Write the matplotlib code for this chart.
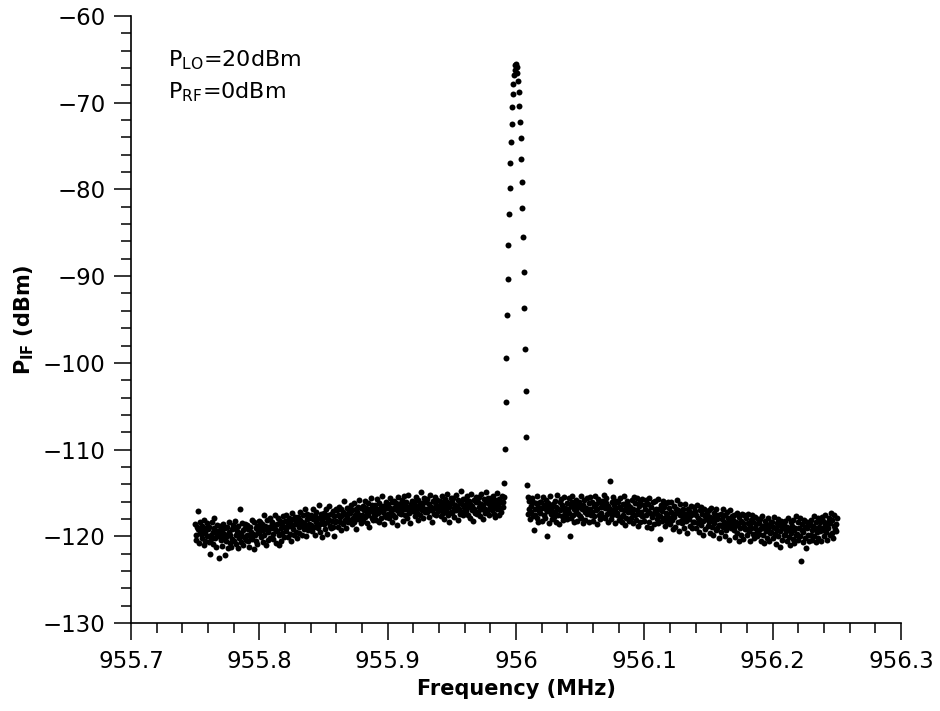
import numpy as np
import matplotlib
matplotlib.use("Agg")
import matplotlib.pyplot as plt
from matplotlib.ticker import MultipleLocator, FuncFormatter

# frequency sweep: 1001 points, 0.5 kHz step
f_start = 955.75
f_stop = 956.25
n_points = 1001

# noise floor below the peak (955.7500 .. 955.9905 MHz)
noise_left = [
    -118.6, -119.9, -120.4, -118.9, -119.2, -117.1, -120.8, -119.5, -118.3, -119.7, -120.2, -118.8, -119.3, -121.0, -118.1, -119.6, -120.5, -119.0, -118.5, -120.0,
    -119.2, -120.7, -118.9, -122.1, -119.8, -120.3, -118.4, -119.5, -120.9, -119.1, -117.9, -120.2, -119.6, -121.2, -118.7, -120.0, -119.4, -122.5, -119.9, -118.8,
    -120.4, -119.3, -121.1, -118.6, -120.1, -119.7, -122.2, -119.0, -120.6, -118.9, -120.0, -121.4, -119.5, -118.3, -120.8, -119.9, -121.2, -119.2, -120.3, -118.7,
    -119.1, -120.5, -118.2, -119.8, -120.9, -119.4, -121.3, -118.8, -119.9, -120.2, -116.9, -119.6, -120.7, -118.5, -119.3, -121.0, -120.1, -119.0, -118.6, -120.4,
    -119.8, -118.7, -120.6, -119.2, -121.2, -118.9, -120.0, -119.5, -118.1, -120.3, -119.7, -121.5, -118.4, -119.9, -120.5, -119.1, -118.8, -120.9, -119.4, -118.2,
    -119.6, -118.3, -120.1, -119.0, -118.6, -120.7, -119.3, -117.6, -119.9, -118.8, -121.0, -119.2, -118.1, -120.4, -119.5, -118.9, -120.2, -117.9, -119.1, -118.5,
    -118.4, -119.7, -120.3, -118.8, -117.5, -119.2, -120.8, -118.6, -119.4, -117.9, -119.9, -121.0, -118.2, -119.1, -120.5, -118.7, -119.6, -117.7, -118.9, -120.1,
    -118.2, -119.4, -117.6, -118.9, -120.1, -118.5, -117.9, -119.7, -118.3, -120.6, -118.8, -117.3, -119.2, -118.0, -119.9, -118.6, -117.8, -119.5, -118.4, -120.2,
    -117.8, -118.9, -119.6, -118.1, -117.2, -118.7, -119.9, -118.3, -117.6, -119.2, -118.5, -116.9, -118.8, -120.0, -118.0, -117.4, -119.3, -118.6, -117.9, -119.0,
    -118.7, -117.5, -119.4, -118.0, -116.8, -118.9, -117.7, -119.8, -118.3, -117.2, -118.5, -119.1, -117.9, -116.4, -118.6, -119.5, -117.4, -118.2, -120.1, -117.8,
    -117.3, -118.6, -119.2, -117.8, -116.9, -118.4, -119.7, -117.6, -118.1, -116.5, -118.8, -117.4, -119.0, -118.2, -117.1, -118.9, -120.0, -117.7, -118.3, -116.8,
    -118.2, -117.0, -118.9, -117.5, -116.6, -118.4, -117.8, -119.3, -116.9, -117.6, -118.6, -117.2, -115.9, -118.1, -117.4, -119.0, -117.7, -116.7, -118.3, -117.1,
    -116.8, -118.1, -117.3, -116.4, -118.6, -117.0, -117.9, -116.2, -118.3, -117.5, -116.9, -119.2, -117.2, -116.6, -118.0, -117.6, -115.8, -117.8, -118.5, -116.7,
    -117.6, -116.5, -118.2, -117.0, -115.9, -117.8, -116.7, -118.5, -117.3, -116.2, -117.5, -118.9, -116.8, -117.1, -115.6, -117.9, -116.4, -118.1, -117.4, -116.9,
    -116.4, -117.6, -118.1, -116.8, -115.7, -117.3, -116.2, -118.4, -117.0, -116.6, -117.9, -115.4, -117.2, -116.5, -118.6, -116.9, -117.5, -116.1, -117.8, -116.7,
    -117.4, -116.3, -117.9, -116.7, -115.6, -117.2, -116.0, -118.3, -116.8, -117.5, -115.9, -116.6, -117.8, -116.2, -118.7, -117.0, -115.5, -116.9, -117.3, -116.4,
    -116.2, -117.4, -115.8, -117.0, -118.2, -116.5, -115.4, -117.6, -116.9, -116.1, -117.9, -116.6, -115.2, -117.3, -116.8, -118.5, -116.3, -117.1, -115.9, -116.7,
    -117.1, -116.0, -117.7, -116.4, -115.5, -117.3, -116.8, -118.1, -115.8, -116.6, -117.5, -116.2, -114.9, -117.0, -116.5, -117.9, -116.1, -115.6, -117.2, -116.9,
    -116.0, -117.2, -115.7, -116.8, -117.8, -116.3, -115.2, -117.0, -116.6, -118.3, -115.9, -116.9, -117.4, -116.1, -115.5, -117.6, -116.4, -115.8, -117.1, -116.7,
    -117.0, -115.9, -116.5, -117.7, -116.2, -115.3, -117.3, -116.8, -118.0, -115.7, -116.4, -117.1, -116.0, -115.1, -117.5, -116.6, -118.4, -116.3, -115.6, -117.2,
    -116.1, -117.3, -115.6, -116.7, -117.8, -116.4, -115.2, -117.0, -116.5, -118.1, -115.8, -116.9, -117.4, -116.0, -114.8, -117.2, -116.3, -115.7, -117.6, -116.6,
    -116.8, -115.7, -117.1, -116.2, -115.4, -117.5, -116.6, -115.9, -117.9, -116.3, -115.1, -117.0, -116.5, -118.2, -115.8, -116.9, -117.3, -116.1, -115.5, -117.4,
    -116.0, -117.2, -115.5, -116.6, -117.7, -116.3, -115.1, -116.9, -116.4, -118.0, -115.7, -116.8, -117.3, -115.9, -114.9, -117.1, -116.2, -115.6, -117.5, -116.5,
    -116.7, -115.6, -117.0, -116.1, -115.3, -117.4, -116.5, -115.8, -117.8, -116.2, -115.0, -116.9, -116.4, -117.6, -115.7, -116.8, -117.2, -116.0, -115.4, -116.6,
    -116.1, -115.5,
]

# IF peak, rising side (955.9910 .. 956.0000 MHz) and falling side (956.0005 .. 956.0085 MHz)
peak_rise = [-113.8, -109.9, -104.5, -99.4, -94.5, -90.3, -86.4, -82.8, -79.8, -76.9,
             -74.5, -72.5, -70.5, -69.0, -67.8, -66.8, -66.2, -65.7, -65.5]
peak_fall = [-65.9, -66.6, -67.5, -68.8, -70.4, -72.2, -74.1, -76.5, -79.2, -82.2,
             -85.5, -89.5, -93.7, -98.4, -103.3, -108.6, -114.1]

# noise floor above the peak (956.0090 .. 956.2500 MHz)
noise_right = [
    -115.5, -117.4, -115.9, -116.9, -118.0, -116.5, -117.2, -115.6, -117.7, -116.1, -119.3, -116.8, -117.5, -116.2, -115.4, -117.9, -116.6, -118.4, -117.1, -116.0,
    -117.3, -116.0, -118.2, -116.7, -115.5, -117.6, -116.4, -117.9, -115.8, -116.9, -120.0, -117.1, -116.2, -118.5, -116.6, -115.3, -117.4, -116.8, -118.0, -116.3,
    -116.5, -117.8, -115.9, -117.2, -118.3, -116.6, -115.2, -117.5, -116.9, -118.6, -116.1, -117.0, -115.7, -117.7, -116.4, -118.1, -116.8, -115.5, -117.3, -116.7,
    -117.5, -116.2, -118.0, -116.8, -115.6, -117.3, -120.0, -116.5, -117.9, -116.0, -115.4, -117.6, -116.9, -118.4, -116.3, -117.1, -115.8, -118.2, -116.6, -117.4,
    -116.1, -117.7, -116.6, -115.3, -117.9, -116.9, -118.5, -116.4, -115.8, -117.2, -118.1, -116.7, -117.4, -115.6, -117.0, -116.2, -118.3, -116.8, -115.5, -117.6,
    -117.2, -116.0, -118.2, -116.5, -117.7, -115.4, -117.0, -116.3, -118.6, -116.8, -115.7, -117.5, -116.1, -118.0, -116.6, -117.3, -115.9, -117.8, -116.4, -115.2,
    -116.7, -117.9, -116.2, -115.6, -117.4, -118.3, -116.5, -117.1, -113.6, -116.9, -118.0, -116.0, -117.6, -115.5, -117.2, -116.4, -118.5, -116.8, -115.9, -117.5,
    -117.3, -116.1, -118.1, -116.6, -115.6, -117.8, -116.9, -118.4, -116.3, -117.5, -115.4, -117.0, -118.7, -116.7, -117.9, -115.9, -117.2, -116.4, -118.2, -116.8,
    -116.6, -117.9, -115.8, -117.3, -118.5, -116.9, -115.5, -117.6, -116.2, -118.1, -117.0, -115.6, -118.8, -116.5, -117.4, -116.0, -118.3, -117.2, -115.7, -117.7,
    -117.7, -116.4, -118.2, -116.9, -115.8, -117.5, -118.9, -116.3, -117.1, -115.6, -118.4, -117.3, -116.6, -119.0, -117.8, -116.1, -117.4, -118.6, -115.9, -117.0,
    -116.8, -118.0, -117.4, -115.7, -118.5, -116.9, -117.7, -120.3, -116.4, -118.2, -117.1, -115.9, -117.9, -116.6, -118.8, -117.3, -116.2, -118.4, -117.6, -116.0,
    -117.9, -116.7, -118.6, -117.2, -116.0, -118.1, -117.5, -119.2, -116.5, -117.8, -118.9, -116.9, -117.3, -115.8, -118.4, -117.0, -119.4, -117.6, -116.3, -118.2,
    -117.2, -118.5, -116.8, -117.9, -119.1, -117.4, -116.3, -118.2, -117.7, -119.6, -116.9, -118.0, -117.1, -118.8, -116.5, -117.6, -119.0, -117.3, -118.4, -116.6,
    -118.3, -117.1, -119.0, -117.6, -116.4, -118.5, -117.9, -119.5, -117.0, -118.1, -116.6, -118.7, -117.4, -119.8, -118.2, -116.9, -117.7, -119.2, -118.0, -117.3,
    -117.6, -118.8, -117.0, -118.4, -119.6, -117.8, -116.7, -118.9, -118.1, -119.9, -117.3, -118.5, -117.7, -119.3, -116.9, -118.0, -119.1, -117.5, -118.7, -120.2,
    -118.7, -117.4, -119.5, -118.0, -116.9, -118.9, -118.3, -120.0, -117.6, -118.5, -119.3, -117.2, -118.8, -117.9, -120.4, -118.2, -117.0, -119.1, -118.6, -117.7,
    -118.1, -119.3, -117.5, -118.8, -120.1, -118.4, -117.3, -119.6, -118.6, -120.5, -117.8, -119.0, -118.2, -119.8, -117.4, -118.5, -120.3, -118.9, -117.6, -119.2,
    -119.2, -117.9, -119.9, -118.5, -117.4, -119.4, -118.8, -120.6, -118.1, -119.0, -117.6, -119.7, -118.3, -120.2, -119.1, -117.8, -118.6, -120.0, -119.5, -118.0,
    -118.5, -119.7, -118.0, -119.2, -120.5, -118.8, -117.7, -119.9, -119.0, -120.8, -118.2, -119.4, -118.6, -120.2, -117.9, -119.1, -120.6, -118.7, -119.6, -118.3,
    -119.5, -118.3, -120.2, -118.9, -117.8, -119.7, -119.1, -120.9, -118.5, -119.3, -118.0, -120.0, -118.7, -121.2, -119.4, -118.2, -119.0, -120.4, -118.6, -119.8,
    -118.7, -119.9, -118.2, -119.4, -120.6, -118.9, -117.9, -120.1, -119.2, -121.0, -118.4, -119.6, -118.8, -120.3, -118.1, -119.3, -120.8, -119.0, -117.7, -119.8,
    -119.7, -118.4, -120.4, -119.0, -117.9, -120.0, -122.9, -119.3, -118.6, -120.7, -119.5, -118.1, -120.2, -118.9, -121.3, -119.1, -118.3, -119.8, -120.5, -118.7,
    -118.6, -119.8, -118.1, -119.3, -120.4, -118.8, -117.7, -120.0, -119.1, -120.7, -118.3, -119.5, -117.9, -120.2, -118.9, -119.4, -118.4, -120.5, -119.0, -117.8,
    -119.3, -118.2, -120.0, -118.7, -117.6, -119.5, -118.9, -120.4, -118.4, -119.1, -117.9, -119.8, -118.5, -117.3, -119.6, -118.1, -120.2, -118.8, -117.5, -119.2,
    -118.6, -119.4, -117.9,
]

x_ticks = [955.7, 955.8, 955.9, 956.0, 956.1, 956.2, 956.3]
y_ticks = [-130, -120, -110, -100, -90, -80, -70, -60]


def fmt_num(v, pos=None):
    return ("%g" % round(v, 3)).replace("-", "\u2212")


def make_plot():
    freq = np.linspace(f_start, f_stop, n_points)
    level = np.array(noise_left + peak_rise + peak_fall + noise_right)

    fig = plt.figure(figsize=(9.4, 7.11), dpi=100)
    ax = fig.add_axes([0.1394, 0.1238, 0.8191, 0.8537])

    ax.plot(freq, level, 'o', color='black', markersize=4.3,
            markeredgewidth=0, linestyle='none')

    ax.set_xlim(x_ticks[0], x_ticks[-1])
    ax.set_ylim(y_ticks[0], y_ticks[-1])
    ax.set_xticks(x_ticks)
    ax.set_yticks(y_ticks)
    ax.xaxis.set_minor_locator(MultipleLocator(0.02))
    ax.yaxis.set_minor_locator(MultipleLocator(2))
    ax.xaxis.set_major_formatter(FuncFormatter(fmt_num))
    ax.yaxis.set_major_formatter(FuncFormatter(fmt_num))

    for side in ['top', 'right']:
        ax.spines[side].set_visible(False)
    for side in ['left', 'bottom']:
        ax.spines[side].set_linewidth(1.2)

    ax.tick_params(which='major', direction='out', length=12.5, width=1.1,
                   labelsize=16.5, colors='black')
    ax.tick_params(which='minor', direction='out', length=7, width=1.1)
    ax.tick_params(axis='x', which='major', pad=7)
    ax.tick_params(axis='y', which='major', pad=6)

    ax.set_xlabel('Frequency (MHz)', fontsize=15, fontweight='bold')
    ax.xaxis.set_label_coords(0.5, -0.092)
    ax.set_ylabel(r'$\mathbf{P_{IF}}$ (dBm)', fontsize=15, fontweight='bold')
    ax.yaxis.set_label_coords(-0.123, 0.5)

    ax.text(0.048, 0.928, r'P$_{\mathrm{LO}}$=20dBm', transform=ax.transAxes,
            fontsize=16, va='center', ha='left')
    ax.text(0.048, 0.875, r'P$_{\mathrm{RF}}$=0dBm', transform=ax.transAxes,
            fontsize=16, va='center', ha='left')

    fig.savefig('out.png', dpi=100)
    plt.close(fig)


if __name__ == "__main__":
    make_plot()
